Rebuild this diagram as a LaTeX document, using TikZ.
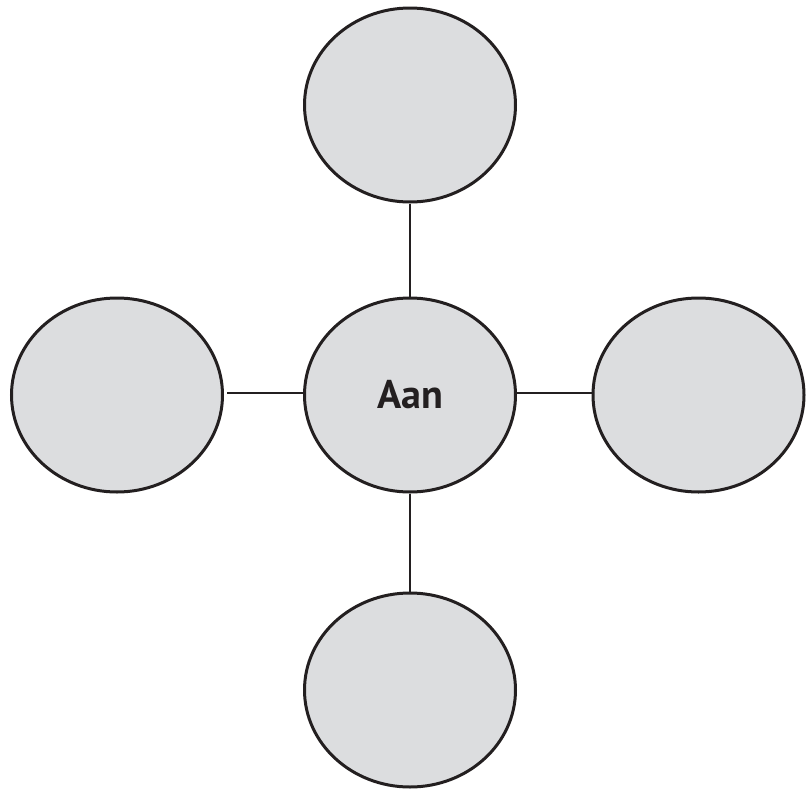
\documentclass[tikz,border=0pt]{standalone}
\usepackage{fontspec}
\setmainfont{PT Sans}
\usetikzlibrary{shapes.geometric}
\definecolor{fillgray}{HTML}{DCDDDF}
\definecolor{inkdark}{HTML}{231F20}
\begin{document}
\begin{tikzpicture}[x=1pt,y=-1pt,
  bubble/.style={ellipse, draw=inkdark, fill=fillgray, line width=3pt, inner sep=0pt,
    minimum width=211pt, minimum height=194pt},
  link/.style={draw=inkdark, line width=2.3pt}]
\useasboundingbox (0,0) rectangle (809,798);
\node[bubble] (c) at (410,395) {\raisebox{-4pt}{\fontsize{40}{44}\selectfont\bfseries\color{inkdark}Aan}};
\node[bubble] (t) at (410,105) {};
\node[bubble] (l) at (117,395) {};
\node[bubble] (r) at (698.5,395) {};
\node[bubble] (b) at (410,690) {};
\draw[link] (t.south) -- (c.north);
\draw[link] (c.south) -- (b.north);
\draw[link] ([xshift=3pt,yshift=2pt]l.east) -- ([yshift=2pt]c.west);
\draw[link] ([yshift=2pt]c.east) -- ([yshift=2pt]r.west);
\end{tikzpicture}
\end{document}
